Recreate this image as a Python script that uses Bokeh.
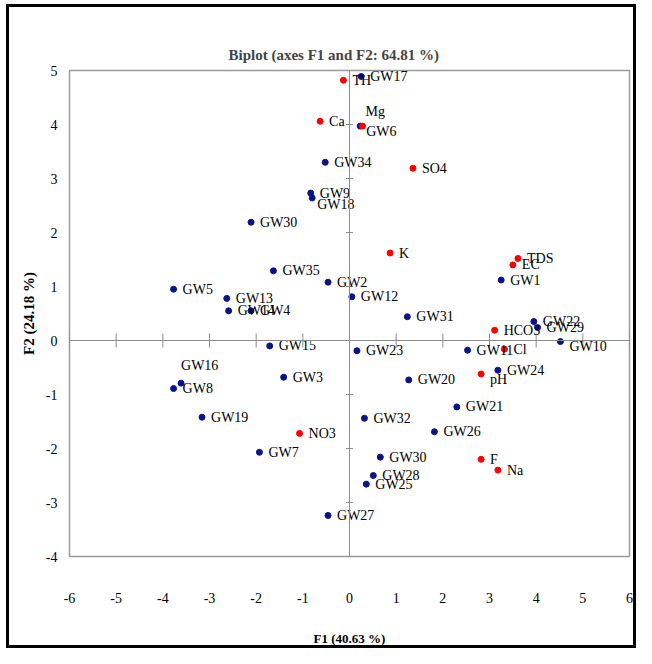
from bokeh.plotting import figure
from bokeh.models import Range1d, FixedTicker, Span, ColumnDataSource
from bokeh.embed import file_html
from bokeh.resources import INLINE
from bokeh.core.properties import value

# ---------------- data ----------------
x_ticks = [-6, -5, -4, -3, -2, -1, 0, 1, 2, 3, 4, 5, 6]
x_tick_labels = ["-6", "-5", "-4", "-3", "-2", "-1", "0", "1", "2", "3", "4", "5", "6"]
y_ticks = [-4, -3, -2, -1, 0, 1, 2, 3, 4, 5]
y_tick_labels = ["-4", "-3", "-2", "-1", "0", "1", "2", "3", "4", "5"]

obs_names = ["GW17", "GW6", "GW34", "GW9", "GW18", "GW30", "GW35", "GW2", "GW12",
             "GW5", "GW13", "GW14", "GW4", "GW31", "GW15", "GW23", "GW16", "GW8",
             "GW3", "GW20", "GW19", "GW32", "GW7", "GW21", "GW26", "GW30", "GW28",
             "GW25", "GW27", "GW1", "GW22", "GW29", "GW10", "GW11", "GW24"]
obs_f1 = [0.25, 0.23, -0.52, -0.83, -0.80, -2.11, -1.63, -0.46, 0.05,
          -3.77, -2.63, -2.59, -2.11, 1.24, -1.71, 0.16, -3.61, -3.77,
          -1.41, 1.27, -3.16, 0.32, -1.93, 2.30, 1.82, 0.66, 0.51,
          0.36, -0.46, 3.25, 3.95, 4.03, 4.52, 2.53, 3.18]
obs_f2 = [4.89, 3.97, 3.30, 2.73, 2.64, 2.19, 1.29, 1.08, 0.81,
          0.95, 0.78, 0.55, 0.55, 0.44, -0.10, -0.19, -0.79, -0.89,
          -0.68, -0.73, -1.42, -1.44, -2.07, -1.23, -1.69, -2.16, -2.50,
          -2.66, -3.24, 1.12, 0.35, 0.24, -0.02, -0.18, -0.55]

var_names = ["TH", "Ca", "Mg", "SO4", "K", "EC", "TDS", "HCO3", "Cl", "pH", "F", "Na", "NO3"]
var_f1 = [-0.13, -0.63, 0.28, 1.36, 0.87, 3.50, 3.61, 3.11, 3.32, 2.82, 2.82, 3.18, -1.07]
var_f2 = [4.82, 4.06, 3.97, 3.19, 1.62, 1.40, 1.52, 0.19, -0.16, -0.62, -2.20, -2.40, -1.72]

# label nudges (pixels) for labels that are not placed right of their point
nudge = {"GW16": (0, -18), "Mg": (3, -15), "GW6": (6, 5), "GW18": (5, 7),
         "GW10": (9, 5), "pH": (9, 6)}

BLUE = "#0A1488"
RED = "#FF0000"
FONT = "Liberation Serif"

p = figure(width=630, height=644, x_range=Range1d(-6, 6), y_range=Range1d(-4, 5),
           output_backend="svg", toolbar_location=None,
           min_border_left=60, min_border_right=10, min_border_top=63, min_border_bottom=95)
p.margin = (4, 0, 0, 6)
p.styles = {"border": "3px solid black"}
p.background_fill_color = "white"
p.border_fill_color = "white"
p.outline_line_color = "#9A9A9A"
p.outline_line_width = 1.5
p.xgrid.visible = False
p.ygrid.visible = False

p.title.text = "Biplot (axes F1 and F2: 64.81 %)"
p.title.align = "left"
p.title.text_font = FONT
p.title.text_font_size = "15px"
p.title.text_font_style = "bold"
p.title.offset = 159
p.title.standoff = 15

for ax, ticks, labels in ((p.xaxis[0], x_ticks, x_tick_labels), (p.yaxis[0], y_ticks, y_tick_labels)):
    ax.ticker = FixedTicker(ticks=ticks)
    ax.major_label_overrides = dict(zip(ticks, labels))
    ax.axis_line_color = None
    ax.major_tick_line_color = None
    ax.minor_tick_line_color = None
    ax.major_tick_out = 0
    ax.major_tick_in = 0
    ax.major_label_text_font = FONT
    ax.major_label_text_font_size = "14px"
    ax.major_label_text_color = "black"
    ax.axis_label_text_font = FONT
    ax.axis_label_text_font_style = "bold"
    ax.axis_label_text_color = "black"

p.xaxis.axis_label = "F1 (40.63 %)"
p.xaxis.axis_label_text_font_size = "13px"
p.xaxis.major_label_standoff = 36
p.xaxis.axis_label_standoff = 25
p.yaxis.axis_label = "F2 (24.18 %)"
p.yaxis.axis_label_text_font_size = "15px"
p.yaxis.major_label_standoff = 12
p.yaxis.axis_label_standoff = 6

# zero axes with ticks
p.add_layout(Span(location=0, dimension="width", line_color="#8C8C8C", line_width=1))
p.add_layout(Span(location=0, dimension="height", line_color="#8C8C8C", line_width=1))
p.segment(x0=x_ticks, y0=[-0.13] * len(x_ticks), x1=x_ticks, y1=[0.13] * len(x_ticks),
          line_color="#8C8C8C", line_width=1)
p.segment(x0=[-0.075] * len(y_ticks), y0=y_ticks, x1=[0.075] * len(y_ticks), y1=y_ticks,
          line_color="#8C8C8C", line_width=1)

# points
p.scatter(obs_f1, obs_f2, size=6, fill_color=BLUE, line_color=BLUE)
p.scatter(var_f1, var_f2, size=6, fill_color=RED, line_color=RED)

names = obs_names + var_names
xs = obs_f1 + var_f1
ys = obs_f2 + var_f2
xo = [nudge.get(n, (9, 0))[0] for n in names]
yo = [nudge.get(n, (9, 0))[1] for n in names]
src = ColumnDataSource(dict(x=xs, y=ys, t=names, xo=xo, yo=yo))
p.text(x="x", y="y", text="t", x_offset="xo", y_offset="yo", source=src,
       text_font=value(FONT), text_font_size="14px", text_color="black",
       text_baseline="middle", text_align="left")

open("out.html", "w").write(file_html(p, INLINE))
